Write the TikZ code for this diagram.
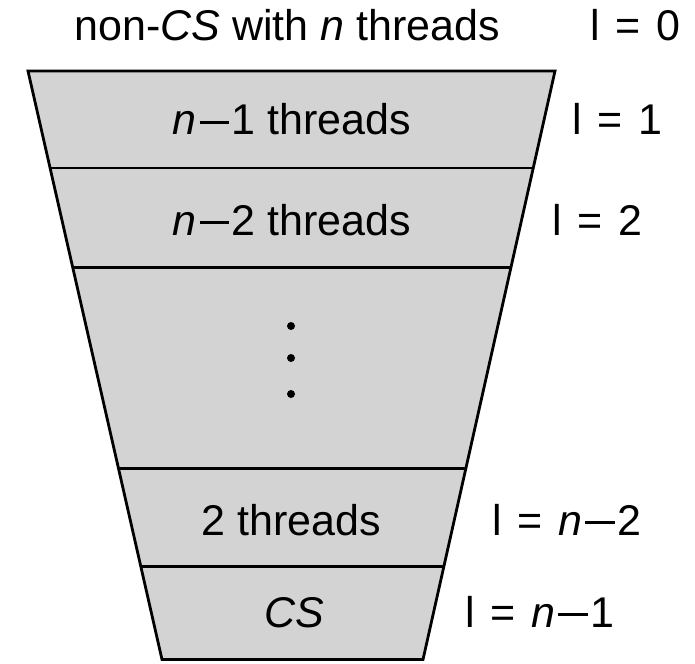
\documentclass[tikz,border=0pt]{standalone}
\usepackage{fontspec}
\setmainfont{Liberation Sans}
\usetikzlibrary{calc}
\definecolor{fillgray}{RGB}{211,211,211}
\newcommand{\mminus}{\kern0.08em\rule[0.255em]{0.68em}{0.075em}\kern0.06em}
\newcommand{\lvltext}[1]{l\hspace{0.36em}=\hspace{0.36em}#1}
\begin{document}
\begin{tikzpicture}[x=0.5pt,y=-0.5pt,
  lbl/.style={font=\fontsize{21.5}{26}\selectfont, inner sep=0pt, anchor=base},
  lvl/.style={font=\fontsize{21.5}{26}\selectfont, inner sep=0pt, anchor=base west},
  edge/.style={line width=1.4pt, line join=miter},
  divider/.style={line width=1.4pt},
  dotc/.style={circle, fill=black, inner sep=0pt, minimum size=4pt}]
\useasboundingbox (0,0) rectangle (695,663);
\coordinate (TL) at (28,71);
\coordinate (TR) at (555,71);
\coordinate (BR) at (423,659.5);
\coordinate (BL) at (162,659.5);
\filldraw[edge, fill=fillgray] (TL) -- (TR) -- (BR) -- (BL) -- cycle;
\foreach \t/\n in {0.1647/a, 0.3345/b, 0.6757/c, 0.8421/d}{
  \coordinate (L\n) at ($(TL)!\t!(BL)$);
  \coordinate (R\n) at ($(TR)!\t!(BR)$);
  \draw[divider] (L\n) -- (R\n);
}
\node[lbl] (top) at (287,41) {non-\textit{CS} with \textit{n} threads};
\node[lvl] (l0) at (590,41) {\lvltext{0}};
\node[lbl] (r1) at (291.5,135) {\textit{n}\mminus 1 threads};
\node[lvl] (l1) at (572,135) {\lvltext{1}};
\node[lbl] (r2) at (292,235) {\textit{n}\mminus 2 threads};
\node[lvl] (l2) at (552,235) {\lvltext{2}};
\node[dotc] (d1) at (291,326) {};
\node[dotc] (d2) at (291,358) {};
\node[dotc] (d3) at (291,394) {};
\node[lbl] (r3) at (291.5,535) {2 threads};
\node[lvl] (l3) at (492,535) {\lvltext{\textit{n}\mminus 2}};
\node[lbl] (r4) at (294.5,627) {\textit{CS}};
\node[lvl] (l4) at (465,627) {\lvltext{\textit{n}\mminus 1}};
\end{tikzpicture}
\end{document}
